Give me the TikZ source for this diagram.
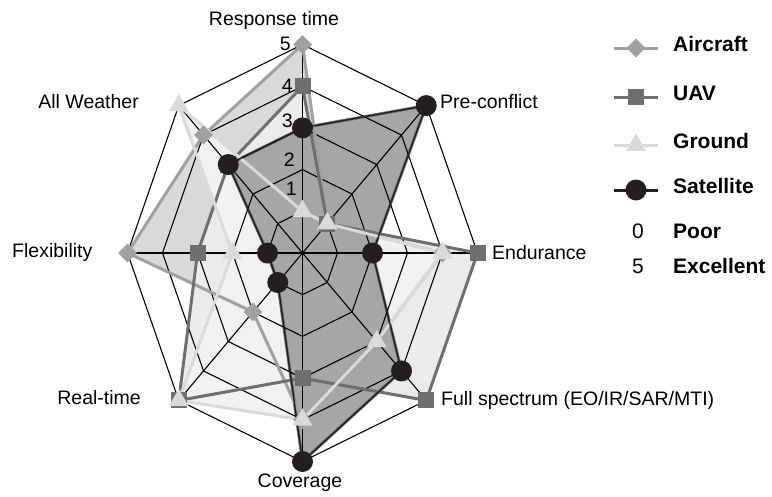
\documentclass[tikz,border=0pt]{standalone}
\usepackage{fontspec}
\setmainfont{Liberation Sans}
\usetikzlibrary{shapes.geometric}

\newcommand\cx{302.5}
\newcommand\cy{253}
\newcommand\rx{35}
\newcommand\ry{41.7}

\definecolor{aircraftgray}{HTML}{A0A0A0}
\definecolor{uavgray}{HTML}{6F6F71}
\definecolor{groundgray}{HTML}{DADADA}
\definecolor{satblack}{HTML}{231F20}
\definecolor{aircraftfill}{HTML}{D9D9D9}
\definecolor{uavfill}{HTML}{EBEBEB}
\definecolor{groundfill}{HTML}{F1F1F2}
\definecolor{satfill}{HTML}{A6A6A8}

\tikzset{
	gridline/.style = {black, line width = 1.1pt, line join = round},
	airline/.style = {aircraftgray, line width = 3pt, line join = round},
	uavline/.style = {uavgray, line width = 3pt, line join = round},
	gndline/.style = {groundgray, line width = 3pt, line join = round},
	satline/.style = {satblack, line width = 1.4pt, line join = round},
	airmark/.style = {diamond, fill = aircraftgray, minimum size = 19pt, inner sep = 0pt},
	uavmark/.style = {rectangle, fill = uavgray, minimum size = 16pt, inner sep = 0pt},
	gndmark/.style = {regular polygon, regular polygon sides = 3, fill = groundgray, minimum size = 23pt, inner sep = 0pt},
	satmark/.style = {circle, fill = satblack, minimum size = 21pt, inner sep = 0pt},
	axislabel/.style = {inner sep = 0pt, text height = 0.72em, text depth = 0pt},
	legendlabel/.style = {axislabel, anchor = west, font = \fontsize{21}{25}\selectfont\bfseries},
}

\begin{document}
\begin{tikzpicture}[x = 1pt, y = 1pt, yscale = -1, font = \fontsize{19.5}{23}\selectfont]
	\useasboundingbox (0, 0) rectangle (772, 496);
	\coordinate (center) at (\cx, \cy);

	% Werte je Achse: Response time, Pre-conflict, Endurance, Full spectrum, Coverage, Real-time, Flexibility, All Weather
	\foreach \series/\values in {air/{5,1,4,3,4,2,5,4}, uav/{4,1,5,5,3,5,3,3}, gnd/{1,1,4,3,4,5,2,5}, sat/{3,5,2,4,5,1,1,3}} {
		\foreach \v [count = \k from 0] in \values {
			\coordinate (\series\k) at ({\cx+\rx*\v*sin(45*\k)}, {\cy-\ry*\v*cos(45*\k)});
		}
	}

	% Flaechen
	\fill [aircraftfill] (air0) \foreach \k in {1,...,7} {-- (air\k)} -- cycle;
	\fill [uavfill] (uav0) \foreach \k in {1,...,7} {-- (uav\k)} -- cycle;
	\fill [groundfill] (gnd0) \foreach \k in {1,...,7} {-- (gnd\k)} -- cycle;
	\filldraw [fill = satfill, draw = uavgray, line width = 3pt, line join = round] (sat0) \foreach \k in {1,...,7} {-- (sat\k)} -- cycle;

	% Netz
	\foreach \lvl in {1,...,5} {
		\draw [gridline] ({\cx}, {\cy-\ry*\lvl}) \foreach \k in {1,...,7} {-- ({\cx+\rx*\lvl*sin(45*\k)}, {\cy-\ry*\lvl*cos(45*\k)})} -- cycle;
	}
	\foreach \k in {0,...,7} {
		\draw [gridline] (center) -- ({\cx+\rx*5*sin(45*\k)}, {\cy-\ry*5*cos(45*\k)});
	}

	% Linien und Marker
	\foreach \series/\look in {air/airline, uav/uavline, gnd/gndline, sat/satline} {
		\draw [\look] (\series0) \foreach \k in {1,...,7} {-- (\series\k)} -- cycle;
	}
	\foreach \series/\look in {air/airmark, uav/uavmark, gnd/gndmark, sat/satmark} {
		\foreach \k in {0,...,7} {
			\node [\look] (\series m\k) at (\series\k) {};
		}
	}

	% Skala
	\foreach \x/\y/\num in {291/47/5, 293/89/4, 293/124/3, 295/163/2, 297/192/1} {
		\node [axislabel, anchor = east] (tick\num) at (\x, \y) {\num};
	}

	% Achsen
	\node [axislabel] (lblresp) at (274, 22) {Response time};
	\node [axislabel, anchor = west] (lblpre) at (440, 105) {Pre-conflict};
	\node [axislabel, anchor = west] (lblend) at (492, 256) {Endurance};
	\node [axislabel, anchor = west] (lblfull) at (441, 402) {Full spectrum (EO/IR/SAR/MTI)};
	\node [axislabel] (lblcov) at (300, 484) {Coverage};
	\node [axislabel, anchor = east] (lblreal) at (141, 401) {Real-time};
	\node [axislabel, anchor = west] (lblflex) at (12, 254) {Flexibility};
	\node [axislabel, anchor = east] (lblall) at (139, 105) {All Weather};

	% Legende
	\foreach \y/\series/\lk/\mk/\name in {48/air/airline/airmark/Aircraft, 97/uav/uavline/uavmark/UAV, 145/gnd/gndline/gndmark/Ground, 190/sat/satline/satmark/Satellite} {
		\draw [\lk, line width = 3pt] (614, \y) -- (658, \y);
		\node [\mk] (leg\series) at (636, \y) {};
		\node [legendlabel] (legtext\series) at (673, \y) {\name};
	}
	\node [axislabel, font = \fontsize{21}{25}\selectfont] (poornum) at (638, 235) {0};
	\node [legendlabel] (poortext) at (673, 235) {Poor};
	\node [axislabel, font = \fontsize{21}{25}\selectfont] (excnum) at (638, 270) {5};
	\node [legendlabel] (exctext) at (673, 270) {Excellent};
\end{tikzpicture}
\end{document}
